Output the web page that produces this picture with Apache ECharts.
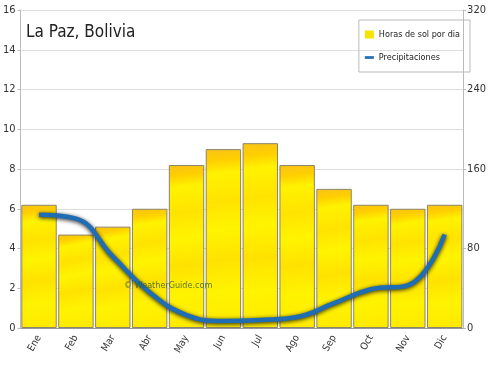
<!DOCTYPE html>
<html><head><meta charset="utf-8">
<script src="https://cdn.jsdelivr.net/npm/echarts@6/dist/echarts.min.js"></script>
<style>html,body{margin:0;padding:0;background:#fff}#c{width:489px;height:368px}</style>
</head><body><div id="c"></div>
<script>
const months = ['Ene','Feb','Mar','Abr','May','Jun','Jul','Ago','Sep','Oct','Nov','Dic'];
const sunHours = [6.2, 4.7, 5.1, 6.0, 8.2, 9.0, 9.3, 8.2, 7.0, 6.2, 6.0, 6.2];
const precip = [114, 110, 72, 36, 13, 7, 8, 11, 25, 39, 43, 94];
const leftTicks = [0, 2, 4, 6, 8, 10, 12, 14, 16];
const rightTicks = [0, 80, 160, 240, 320];
const FONT = '"DejaVu Sans Condensed", "Liberation Sans Narrow", sans-serif';

const chart = echarts.init(document.getElementById('c'));
chart.setOption({
  animation: false,
  backgroundColor: '#fff',
  title: { text: 'La Paz, Bolivia', left: 21, top: 19, textStyle: { fontFamily: FONT, fontSize: 17, fontWeight: 'normal', color: '#222' } },
  legend: {
    right: 19, top: 20, orient: 'vertical',
    borderColor: '#bbb', borderWidth: 1, padding: [10, 10, 10, 6],
    textStyle: { fontFamily: FONT, fontSize: 9, color: '#222' },
    itemWidth: 9, itemHeight: 8, itemGap: 14,
    data: [
      { name: 'Horas de sol por dia', icon: 'rect', itemStyle: { color: '#f5e400', borderWidth: 0 } },
      { name: 'Precipitaciones', icon: 'path://M0,0h10v3h-10z', itemStyle: { color: '#1f6db4', borderWidth: 0 } }
    ]
  },
  grid: { left: 18, right: 14, top: 10, bottom: 40 },
  xAxis: {
    type: 'category', data: months, boundaryGap: true,
    axisLine: { show: true, lineStyle: { color: '#999' } },
    axisTick: { show: false },
    axisLabel: { rotate: 60, fontFamily: FONT, fontSize: 10, color: '#333', margin: 8 }
  },
  yAxis: [
    { type: 'value', min: 0, max: 16, interval: 2, position: 'left',
      axisLine: { show: true, lineStyle: { color: '#bbb' } },
      axisTick: { show: true, length: 3, lineStyle: { color: '#bbb' } },
      axisLabel: { fontFamily: FONT, fontSize: 11, color: '#333', margin: 5 },
      splitLine: { lineStyle: { color: '#ddd' } } },
    { type: 'value', min: 0, max: 320, interval: 80, position: 'right',
      axisLine: { show: true, lineStyle: { color: '#bbb' } },
      axisTick: { show: true, length: 3, lineStyle: { color: '#bbb' } },
      axisLabel: { fontFamily: FONT, fontSize: 11, color: '#333', margin: 4 },
      splitLine: { show: false } }
  ],
  graphic: [{
    type: 'text', left: 124, top: 281, z: 100,
    style: { text: '© WeatherGuide.com', fontFamily: FONT, fontSize: 9, fill: 'rgba(50,90,40,0.8)' }
  }],
  series: [
    { name: 'Horas de sol por dia', type: 'bar', yAxisIndex: 0, data: sunHours,
      barCategoryGap: '4%',
      itemStyle: {
        color: { type: 'linear', x: 0, y: 0, x2: 0.5, y2: 1, colorStops: [
          { offset: 0, color: '#f8c21a' }, { offset: 0.07, color: '#ffcf00' },
          { offset: 0.14, color: '#fff200' }, { offset: 0.3, color: '#ffe300' },
          { offset: 0.45, color: '#fff400' }, { offset: 0.62, color: '#ffe200' },
          { offset: 0.8, color: '#fff300' }, { offset: 1, color: '#ffea00' } ] },
        borderColor: '#8c8468', borderWidth: 1
      } },
    { name: 'Precipitaciones', type: 'line', yAxisIndex: 1, data: precip,
      smooth: 0.45, symbol: 'none', color: '#1f6db4', z: 5,
      lineStyle: { width: 4.5, color: '#1f6db4', shadowColor: 'rgba(0,0,0,0.85)', shadowBlur: 4, shadowOffsetY: 1 } }
  ]
});
</script></body></html>
